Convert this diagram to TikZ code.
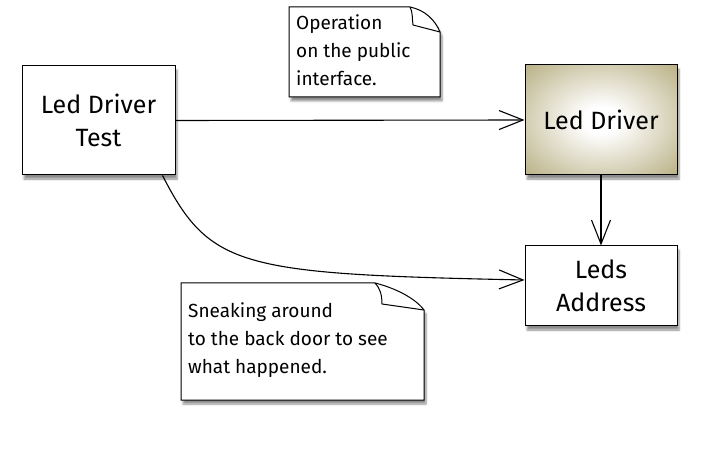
\documentclass[tikz,border=0pt]{standalone}
\usepackage{fontspec}
\setmainfont{Fira Sans}
\usetikzlibrary{arrows.meta,shadows,shadows.blur}
\definecolor{olive}{HTML}{B3AA7B}
\definecolor{olivedark}{HTML}{A39A68}
\pgfdeclareradialshading{ledglow}{\pgfpoint{0bp}{0bp}}{color(0bp)=(white); color(6bp)=(white); color(38bp)=(olive); color(50bp)=(olivedark)}
\tikzset{
  box/.style={draw=black, line width=1pt, fill=white, inner sep=0pt, align=center,
    font=\fontsize{25}{33}\selectfont, blur shadow={shadow xshift=2pt, shadow yshift=-4pt, shadow blur steps=6, shadow opacity=45}},
  link/.style={line width=1.1pt, -{Straight Barb[length=24pt,width=19pt,line width=1.1pt]}},
  notetext/.style={inner sep=0pt, align=left, anchor=north west, font=\fontsize{19}{28}\selectfont},
  noteshape/.style={draw=black, line width=1pt, fill=white, blur shadow={shadow xshift=2pt, shadow yshift=-4pt, shadow blur steps=6, shadow opacity=45}}
}
\begin{document}
\begin{tikzpicture}[x=1pt,y=-1pt]
\useasboundingbox (0,0) rectangle (702,449);
% boxes
\node[box, minimum width=153pt, minimum height=109pt] (test) at (98.5,120.5) {Led Driver\\Test};
\node[box, minimum width=152pt, minimum height=110pt, shading=ledglow] (drv) at (601,120) {Led Driver};
\node[box, minimum width=152pt, minimum height=80pt] (leds) at (601,286) {Leds\\Address};
% note 1
\path[noteshape] (289,7) -- (410,7) .. controls (425,10) and (435,20) .. (440,32) -- (440,97) -- (289,97) -- cycle;
\draw[line width=1pt] (410,7) .. controls (413,12) and (412,20) .. (413,25) -- (440,32);
\node[notetext] (note1) at (296,14) {Operation\\on the public\\interface.};
% note 2
\path[noteshape] (181,283) -- (375,283) .. controls (395,288) and (415,298) .. (424,310) -- (424,400) -- (181,400) -- cycle;
\draw[line width=1pt] (375,283) .. controls (380,288) and (382,295) .. (382,304) -- (424,310);
\node[notetext] (note2) at (188,302) {Sneaking around\\to the back door to see\\what happened.};
% connectors
\draw[link] (test.east) -- (drv.west);
\draw[link] (drv.south) -- (leds.north);
\coordinate (cstart) at ([xshift=-13pt]test.south east);
\draw[link] (cstart) .. controls (210,268) and (240,274) .. ([yshift=6pt]leds.west);
\end{tikzpicture}
\end{document}
